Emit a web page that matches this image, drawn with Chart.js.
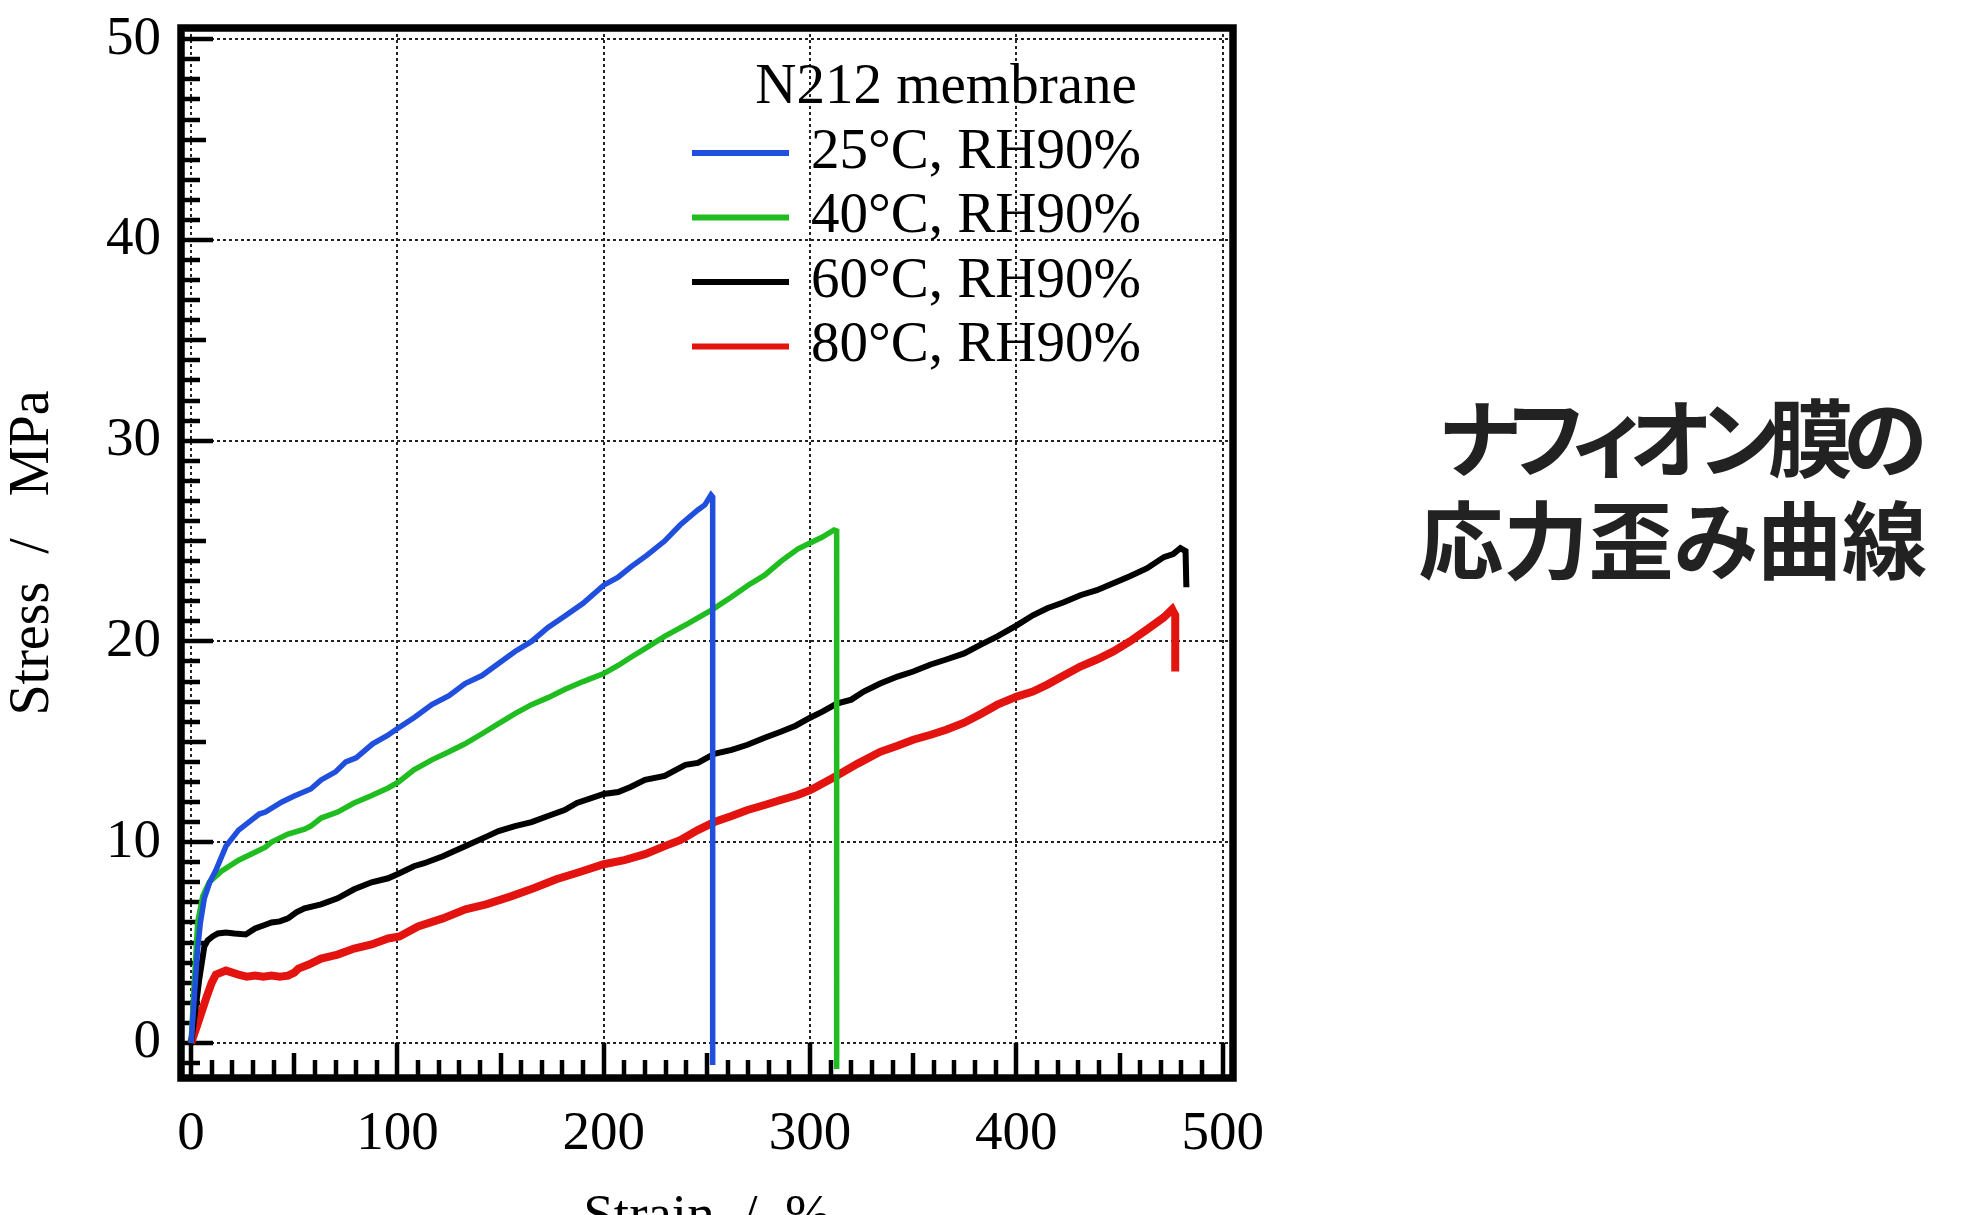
<!DOCTYPE html>
<html>
<head>
<meta charset="utf-8">
<script src="https://cdn.jsdelivr.net/npm/chart.js@4/dist/chart.umd.min.js"></script>
<style>
  html, body { margin: 0; padding: 0; background: #fff; overflow: hidden; }
  #wrap { position: relative; width: 1972px; height: 1215px; overflow: hidden; }
  #chart { display: block; }
  #title-jp {
    position: absolute; right: 45px; top: 383px;
    font-family: "Noto Sans CJK JP", sans-serif; font-weight: 700;
    font-size: 85px; line-height: 102px; color: #222;
    text-align: right; white-space: nowrap;
    font-feature-settings: "palt";
  }
  #title-jp .l1 { letter-spacing: -10px; padding-right: 10px; }
</style>
</head>
<body>
<div id="wrap">
  <canvas id="chart" width="1972" height="1290"></canvas>
  <div id="title-jp"><div class="l1">ナフィオン膜の</div><div>応力歪み曲線</div></div>
</div>
<script>
// axis ticks
const xTicks = [0, 100, 200, 300, 400, 500];
const yTicks = [0, 10, 20, 30, 40, 50];

const legendTitle = "N212 membrane";
const seriesLabels = ["25°C, RH90%", "40°C, RH90%", "60°C, RH90%", "80°C, RH90%"];
const seriesColors = ["#1f4fdc", "#1fbd1f", "#000000", "#e3130f"];

// 25°C
const strain25 = [0, 1.5, 3, 4.5, 6.4, 9, 12, 16.9, 23, 28, 33, 36, 44, 50, 58, 63, 70, 75, 80, 88, 95, 100.6, 108, 116.7, 125, 132.8, 141, 149, 157, 165, 173, 181, 190, 200, 207, 213, 221, 229.5, 237, 245.6, 249, 252, 252.8, 252.8];
const stress25 = [0, 2.2, 4.5, 6.0, 7.2, 8.0, 8.6, 9.8, 10.6, 11.0, 11.4, 11.5, 12.0, 12.3, 12.65, 13.1, 13.5, 14.0, 14.2, 14.9, 15.3, 15.7, 16.2, 16.85, 17.3, 17.9, 18.3, 18.9, 19.5, 20.0, 20.7, 21.25, 21.9, 22.8, 23.2, 23.7, 24.3, 25.0, 25.8, 26.55, 26.8, 27.3, 27.2, -1.1];

// 40°C
const strain40 = [0, 1.5, 3.2, 5.6, 8.8, 14.7, 23, 31, 36, 39, 47, 55, 58, 63, 71, 79, 87, 95.5, 100.6, 108, 116.7, 125, 132.8, 141, 149, 157, 165, 173, 181, 190, 200, 207, 213, 221, 229.5, 241, 252.8, 261.7, 270, 278, 286, 294, 300, 306, 311.6, 312.9, 312.9];
const stress40 = [0, 3.0, 6.0, 7.3, 8.0, 8.55, 9.1, 9.5, 9.75, 10.0, 10.4, 10.65, 10.8, 11.2, 11.5, 11.95, 12.3, 12.7, 13.0, 13.6, 14.1, 14.5, 14.9, 15.4, 15.9, 16.4, 16.85, 17.2, 17.6, 18.0, 18.4, 18.8, 19.2, 19.7, 20.25, 20.9, 21.6, 22.2, 22.8, 23.3, 24.0, 24.6, 24.9, 25.2, 25.55, 25.5, -1.3];

// 60°C
const strain60 = [0, 2, 4, 6.4, 8, 10.4, 13, 16.9, 21, 26.5, 31, 35, 39, 43, 47, 51, 55, 63, 71, 79, 87.5, 95.5, 101, 108, 113, 122, 132.8, 143.7, 149, 157, 165, 173, 181, 187, 200, 207, 213, 220, 229.5, 239.6, 245.6, 253.6, 262, 269.7, 278, 285.8, 293, 300, 306, 313, 320, 326, 334, 342.4, 350, 358.5, 366, 374.7, 383, 390.8, 400.2, 408, 415, 423, 431, 439, 447, 455, 463.4, 471.5, 476, 479.5, 482, 482.4];
const stress60 = [0, 1.6, 3.2, 4.8, 5.1, 5.3, 5.45, 5.5, 5.45, 5.4, 5.7, 5.85, 6.0, 6.05, 6.2, 6.5, 6.7, 6.9, 7.2, 7.65, 8.0, 8.2, 8.45, 8.8, 8.95, 9.3, 9.8, 10.3, 10.55, 10.8, 11.0, 11.3, 11.6, 11.95, 12.4, 12.5, 12.75, 13.1, 13.3, 13.85, 13.95, 14.4, 14.6, 14.85, 15.2, 15.5, 15.8, 16.2, 16.5, 16.9, 17.1, 17.5, 17.9, 18.25, 18.5, 18.85, 19.1, 19.4, 19.85, 20.25, 20.8, 21.3, 21.65, 21.95, 22.3, 22.55, 22.9, 23.25, 23.65, 24.2, 24.35, 24.65, 24.5, 22.7];

// 80°C
const strain80 = [0, 2, 4, 7.2, 10, 12, 16.9, 20, 23, 27, 31, 35, 39, 43, 47, 50, 52, 57, 63, 71, 79, 87.5, 95.5, 101, 110, 122, 133, 143, 155, 166, 177, 188, 200, 210, 220, 229.5, 237, 245.6, 253.6, 262, 269.7, 278, 285.8, 294, 300.3, 311, 322.9, 334, 342.4, 350, 358.5, 366, 374.7, 383, 390.8, 400.2, 408, 415, 423, 431, 439, 447, 455, 463.4, 471.5, 475.5, 477, 477];
const stress80 = [0, 0.6, 1.2, 2.2, 3.0, 3.4, 3.6, 3.5, 3.4, 3.3, 3.35, 3.3, 3.35, 3.3, 3.35, 3.5, 3.7, 3.9, 4.2, 4.4, 4.7, 4.9, 5.2, 5.3, 5.8, 6.2, 6.65, 6.9, 7.3, 7.7, 8.15, 8.5, 8.9, 9.1, 9.4, 9.8, 10.1, 10.6, 11.0, 11.3, 11.6, 11.85, 12.1, 12.35, 12.6, 13.2, 13.9, 14.5, 14.8, 15.1, 15.35, 15.6, 15.95, 16.4, 16.85, 17.25, 17.5, 17.85, 18.3, 18.75, 19.1, 19.5, 20.0, 20.6, 21.2, 21.6, 21.3, 18.5];

const strains = [strain25, strain40, strain60, strain80];
const stresses = [stress25, stress40, stress60, stress80];
const lineWidths = [5.5, 5.5, 6, 8];

const serif = '"Liberation Serif", "Times New Roman", serif';

function toPoints(xs, ys) {
  return xs.map((x, i) => ({ x: x, y: ys[i] }));
}

const datasets = seriesLabels.map((label, i) => ({
  label: label,
  data: toPoints(strains[i], stresses[i]),
  borderColor: seriesColors[i],
  borderWidth: lineWidths[i],
  pointRadius: 0,
  tension: 0,
  fill: false,
}));

// inner ticks + heavy frame
const framePlugin = {
  id: "frame",
  beforeDatasetsDraw(chart) {
    const { ctx, chartArea: a, scales } = chart;
    const x = scales.x, y = scales.y;
    ctx.save();
    ctx.strokeStyle = "#000";
    ctx.lineWidth = 4.5;
    ctx.beginPath();
    for (let v = -1; v <= 50; v++) {
      const len = v % 10 === 0 ? 32 : (v % 5 === 0 ? 25 : 19);
      const py = Math.round(y.getPixelForValue(v));
      ctx.moveTo(a.left, py);
      ctx.lineTo(a.left + len, py);
    }
    const zeroY = y.getPixelForValue(0);
    for (let v = 0; v <= 500; v += 10) {
      const len = v % 100 === 0 ? a.bottom - zeroY : (v % 50 === 0 ? 25 : 18);
      const px = Math.round(x.getPixelForValue(v));
      ctx.moveTo(px, a.bottom);
      ctx.lineTo(px, a.bottom - len);
    }
    ctx.stroke();
    ctx.restore();
  },
  afterDatasetsDraw(chart) {
    const { ctx, chartArea: a } = chart;
    ctx.save();
    ctx.strokeStyle = "#000";
    ctx.lineWidth = 7.5;
    ctx.strokeRect(a.left, a.top, a.right - a.left, a.bottom - a.top);
    ctx.restore();
  },
};

// legend drawn inside the plot
const insideLegend = {
  id: "insideLegend",
  afterDraw(chart) {
    const { ctx, chartArea: a } = chart;
    ctx.save();
    ctx.font = "57px " + serif;
    ctx.fillStyle = "#000";
    ctx.textBaseline = "middle";
    ctx.textAlign = "center";
    ctx.fillText(legendTitle, a.left + 765, a.top + 60);
    ctx.textAlign = "left";
    chart.data.datasets.forEach((ds, i) => {
      const yy = a.top + 125 + i * 64.5;
      ctx.strokeStyle = ds.borderColor;
      ctx.lineWidth = 6;
      ctx.beginPath();
      ctx.moveTo(a.left + 511, yy);
      ctx.lineTo(a.left + 608, yy);
      ctx.stroke();
      ctx.fillText(ds.label, a.left + 630, yy);
    });
    ctx.restore();
  },
};

const gridStyle = { color: "#222", lineWidth: 2, drawTicks: false };

new Chart(document.getElementById("chart"), {
  type: "line",
  data: { datasets: datasets },
  options: {
    responsive: false,
    animation: false,
    layout: { padding: { left: 0, right: 739, top: 28, bottom: 0 } },
    plugins: { legend: { display: false }, tooltip: { enabled: false } },
    scales: {
      x: {
        type: "linear",
        min: -4.9,
        max: 505,
        afterBuildTicks: (s) => { s.ticks = xTicks.map((v) => ({ value: v })); },
        afterFit: (s) => { s.height = 212; s.paddingLeft = 0; s.paddingRight = 0; },
        grid: gridStyle,
        border: { display: false, dash: [3, 3] },
        ticks: {
          color: "#000", padding: 24, autoSkip: false, maxRotation: 0,
          font: { family: serif, size: 55 },
          callback: (v) => String(v),
        },
        title: {
          display: true, text: "Strain  /  %", color: "#000",
          font: { family: serif, size: 55 },
          padding: { top: 0, bottom: 39 },
        },
      },
      y: {
        type: "linear",
        min: -1.75,
        max: 50.56,
        afterBuildTicks: (s) => { s.ticks = yTicks.map((v) => ({ value: v })); },
        afterFit: (s) => { s.width = 181; s.paddingTop = 0; s.paddingBottom = 0; },
        grid: gridStyle,
        border: { display: false, dash: [3, 3] },
        ticks: {
          color: "#000", padding: 20,
          font: { family: serif, size: 55 },
          callback: (v) => String(v),
        },
        title: {
          display: true, text: "Stress  /   MPa", color: "#000",
          font: { family: serif, size: 56 },
          padding: { top: 0, bottom: 0 },
        },
      },
    },
  },
  plugins: [framePlugin, insideLegend],
});
</script>
</body>
</html>
